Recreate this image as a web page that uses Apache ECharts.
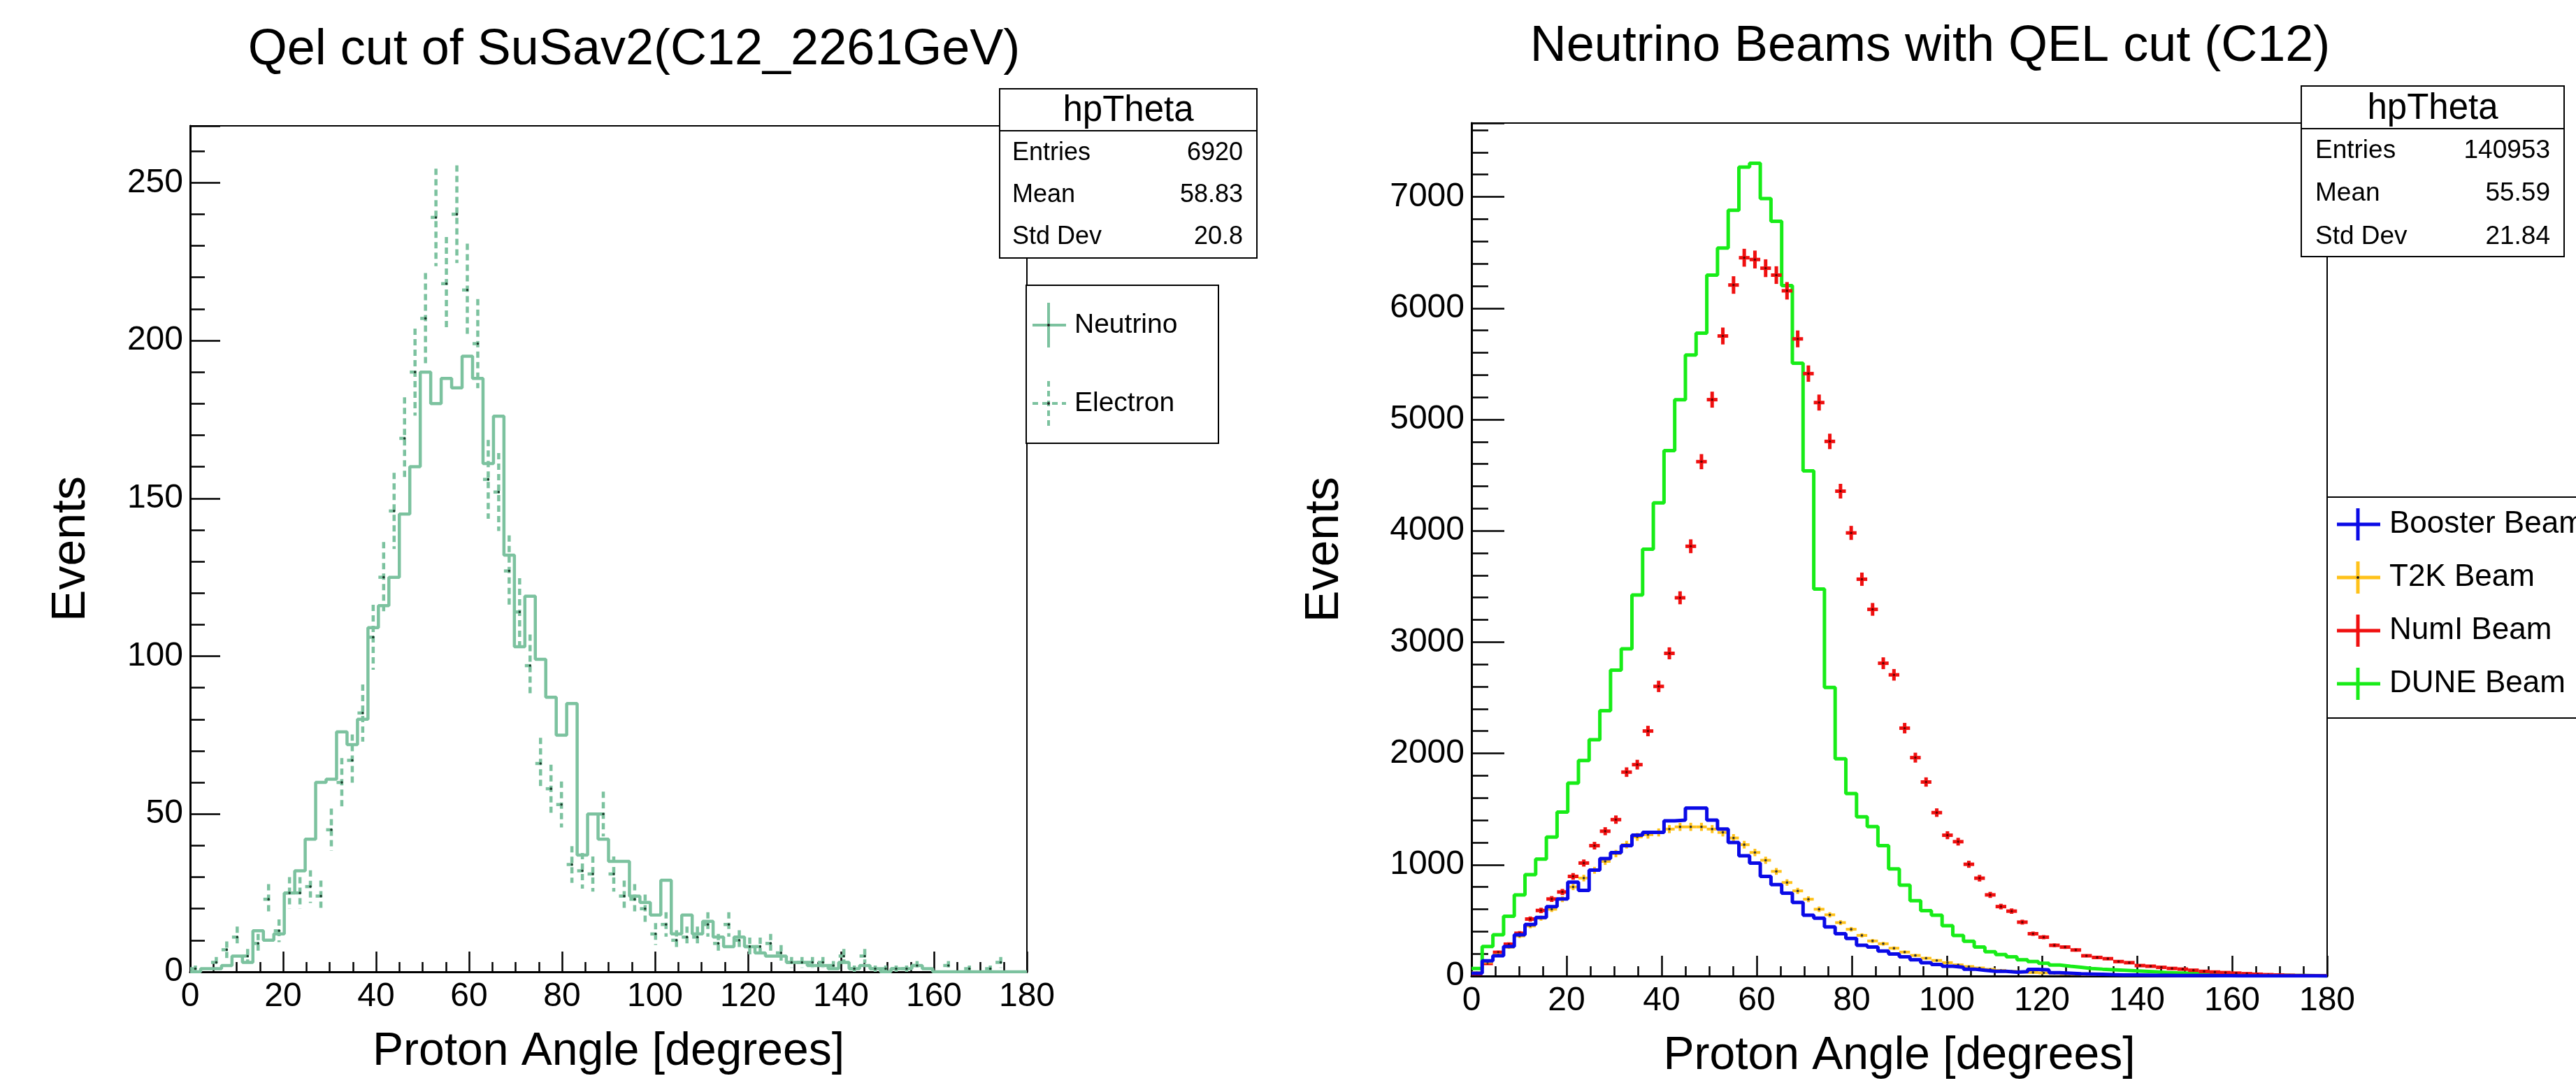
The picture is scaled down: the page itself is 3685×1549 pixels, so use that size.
<!DOCTYPE html>
<html><head><meta charset="utf-8">
<script src="https://cdn.jsdelivr.net/npm/echarts@6/dist/echarts.min.js"></script>
<style>html,body{margin:0;padding:0;background:#fff}#c{width:3685px;height:1549px}</style>
</head><body><div id="c"></div>
<script>
// ---------- binning ----------
const binCount = 80;
const angleMin = 0;
const angleMax = 180;

// ---------- left panel: Qel cut of SuSav2 ----------
const neutrinoCounts = [0,1,1,2,5,3,13,10,12,25, 32,42,60,61,76,72,80,109,116,125,
  145,160,190,180,188,185,195,188,161,176, 132,103,119,99,87,75,85,37,50,42,
  35,35,24,22,18,29,12,18,12,16, 11,8,11,8,6,5,5,3,3,2,
  2,1,3,1,2,1,0,1,1,2, 1,0,0,0,0,0,0,0,0,0];
const electronCounts = [1,0,3,7,11,5,9,23,13,25, 25,27,24,45,60,67,82,106,125,146,
  169,190,207,239,218,240,216,199,156,152, 127,114,97,66,58,53,34,32,31,50,
  31,24,23,20,12,15,10,11,11,15, 9,15,10,8,8,9,6,3,3,3,
  3,2,5,1,5,1,1,1,1,2, 0,0,2,0,1,0,1,3,0,0];

// ---------- right panel: Neutrino beams ----------
const boosterCounts = [25,136,182,265,370,463,526,624,692,843, 770,952,1056,1108,1171,1265,1290,1290,1395,1400,
  1509,1509,1400,1320,1200,1080,1015,895,822,744, 661,546,520,442,380,338,276,260,224,198,
  172,146,120,104,88,78,62,52,42,42, 35,40,60,55,30,25,20,18,15,12,
  10,9,8,7,6,5,5,4,4,3, 3,2,2,2,1,1,1,1,1,0];
const t2kCounts = [30,125,190,260,360,450,520,600,690,800, 880,950,1030,1100,1180,1250,1270,1290,1320,1340,
  1340,1340,1320,1290,1240,1180,1110,1040,940,840, 765,690,600,550,480,420,365,315,290,250,
  215,185,160,140,120,100,85,72,60,50, 42,36,32,28,24,20,17,14,12,10,
  9,8,7,6,5,4,4,3,3,2, 2,2,1,1,1,1,0,0,0,0];
const numiCounts = [20,113,213,286,384,512,589,692,755,895, 1015,1171,1301,1405,1832,1899,2201,2602,2899,3398,
  3861,4621,5178,5750,6208,6453,6437,6359,6297,6156, 5724,5412,5152,4803,4356,3981,3565,3294,2810,2706,
  2227,1962,1743,1468,1265,1207,1004,879,729,624, 583,484,380,349,276,260,234,182,167,156,
  130,120,94,88,78,68,62,52,42,36, 31,26,21,16,12,9,6,4,3,2];
const duneCounts = [67,265,370,537,729,911,1051,1249,1473,1733, 1936,2123,2383,2748,2940,3424,3835,4250,4720,5178,
  5579,5776,6297,6541,6880,7268,7302,6984,6781,6203, 5506,4538,3476,2592,1952,1639,1431,1343,1171,963,
  817,677,588,546,453,364,312,260,219,193, 172,146,130,114,99,88,78,68,62,57,
  52,47,42,37,32,28,25,22,19,16, 14,12,10,8,7,6,5,4,3,2];

// ---------- axis settings / texts ----------
const leftYMax = 268, leftYMajor = 50, leftYMinor = 10;
const rightYMax = 7663, rightYMajor = 1000, rightYMinor = 200;
const xMajor = 20, xMinor = 5;
const leftTitle = 'Qel cut of SuSav2(C12_2261GeV)';
const rightTitle = 'Neutrino Beams with QEL cut (C12)';
const xAxisTitle = 'Proton Angle [degrees]';
const yAxisTitle = 'Events';
const leftStats = [['Entries','6920'],['Mean','58.83'],['Std Dev','20.8']];
const rightStats = [['Entries','140953'],['Mean','55.59'],['Std Dev','21.84']];
const statsName = 'hpTheta';
const leftLegend = ['Neutrino','Electron'];
const rightLegend = ['Booster Beam','T2K Beam','NumI Beam','DUNE Beam'];

// ---------- colours ----------
const cTeal = '#7cc29f', cBlue = '#0a0ae6', cYellow = '#ffc21a', cRed = '#f01010', cGreen = '#18ec18';
const FONT = '"Liberation Sans", Arial, Helvetica, sans-serif';

const binWidth = (angleMax - angleMin) / binCount;
function stepData(vals){
  const d = vals.map((v,i)=>[angleMin + i*binWidth, v]);
  d.push([angleMax, vals[vals.length-1]]);
  return d;
}
function pointData(vals){
  return vals.map((v,i)=>[angleMin + (i+0.5)*binWidth, v]).filter(p=>p[1] > 0);
}
function stepSeries(name, vals, gi, color, width, z){
  return {type:'line', name, xAxisIndex: gi*2, yAxisIndex: gi*2, data: stepData(vals), step:'end',
    showSymbol:false, symbol:'none', lineStyle:{color, width}, itemStyle:{color}, z, silent:true, animation:false, clip:true};
}
function errSeries(name, vals, gi, color, width, dash, dot, z){
  return {type:'custom', name, xAxisIndex: gi*2, yAxisIndex: gi*2, data: pointData(vals), z, silent:true, animation:false, clip:true,
    encode:{x:0,y:1},
    renderItem(params, api){
      const x = api.value(0), y = api.value(1), e = Math.sqrt(y);
      const c = api.coord([x, y]);
      const l = api.coord([x - binWidth/2, y]), r = api.coord([x + binWidth/2, y]);
      const t = api.coord([x, y + e]), b = api.coord([x, Math.max(0, y - e)]);
      const st = {stroke: color, lineWidth: width, lineDash: dash || null};
      const ch = [
        {type:'line', shape:{x1:l[0], y1:c[1], x2:r[0], y2:c[1]}, style: st},
        {type:'line', shape:{x1:c[0], y1:t[1], x2:c[0], y2:b[1]}, style: st}
      ];
      if (dot) ch.push({type:'circle', shape:{cx:c[0], cy:c[1], r:1.8}, style:{fill: dot}});
      return {type:'group', children: ch};
    }};
}

const grids = [
  {left:272, top:180, width:1197, height:1210},
  {left:2105, top:176, width:1224, height:1223}
];
function majorX(gi){
  return {type:'value', gridIndex:gi, min:angleMin, max:angleMax, interval:xMajor, position:'bottom',
    axisLine:{show:true, onZero:false, lineStyle:{color:'#000', width:3}},
    axisTick:{show:true, inside:true, length:29, lineStyle:{color:'#000', width:2.5}},
    axisLabel:{show:true, fontSize:48, color:'#000', fontFamily:FONT, margin:12},
    splitLine:{show:false},
    name:xAxisTitle, nameLocation:'middle', nameGap:82,
    nameTextStyle:{fontSize:66, color:'#000', fontFamily:FONT}};
}
function minorX(gi){
  return {type:'value', gridIndex:gi, min:angleMin, max:angleMax, interval:xMinor, position:'bottom',
    axisLine:{show:false, onZero:false}, axisTick:{show:true, inside:true, length:14, lineStyle:{color:'#000', width:2.5}},
    axisLabel:{show:false}, splitLine:{show:false}};
}
function majorY(gi, max, iv, gap, tickLen){
  return {type:'value', gridIndex:gi, min:0, max, interval:iv, position:'left',
    axisLine:{show:true, onZero:false, lineStyle:{color:'#000', width:3}},
    axisTick:{show:true, inside:true, length:tickLen, lineStyle:{color:'#000', width:2.5}},
    axisLabel:{show:true, fontSize:48, color:'#000', fontFamily:FONT, margin:10,
      formatter: v => (Math.abs(v/iv - Math.round(v/iv)) < 1e-9 ? String(v) : '')},
    splitLine:{show:false},
    name:yAxisTitle, nameLocation:'middle', nameRotate:90, nameGap:gap,
    nameTextStyle:{fontSize:68, color:'#000', fontFamily:FONT}};
}
function minorY(gi, max, iv, tickLen){
  return {type:'value', gridIndex:gi, min:0, max, interval:iv, position:'left',
    axisLine:{show:false, onZero:false}, axisTick:{show:true, inside:true, length:tickLen, lineStyle:{color:'#000', width:2.5}},
    axisLabel:{show:false}, splitLine:{show:false}};
}

// ---------- graphic helpers (stats boxes, legends) ----------
const G = [];
function rect(x,y,w,h){ G.push({type:'rect', z:100, shape:{x,y,width:w,height:h}, style:{fill:'#fff', stroke:'#000', lineWidth:2}}); }
function line(x1,y1,x2,y2,color,w,dash){ G.push({type:'line', z:101, shape:{x1,y1,x2,y2}, style:{stroke:color, lineWidth:w, lineDash:dash||null}}); }
function text(x,y,t,size,align){ G.push({type:'text', z:102, x, y, style:{text:t, font:size+'px '+FONT, fill:'#000', align:align||'left', verticalAlign:'middle'}}); }
function dot(x,y){ G.push({type:'circle', z:102, shape:{cx:x, cy:y, r:2}, style:{fill:'#222'}}); }

function statsBox(x1,y1,x2,y2,div,rows,rowsY,headSize,rowSize,padL,padR){
  rect(x1,y1,x2-x1,y2-y1);
  line(x1,div,x2,div,'#000',2);
  text((x1+x2)/2,(y1+div)/2+2,statsName,headSize,'center');
  rows.forEach((r,i)=>{ text(x1+padL, rowsY[i], r[0], rowSize, 'left'); text(x2-padR, rowsY[i], r[1], rowSize, 'right'); });
}
// left stats + legend
statsBox(1430,127,1798,369,187,leftStats,[219,279,339],51,36,18,20);
rect(1468,408,275,226);
line(1477,465,1525,465,cTeal,4); line(1500,433,1500,497,cTeal,4); dot(1500,465);
text(1537,465,leftLegend[0],39);
line(1477,577,1525,577,cTeal,4,[8,6]); line(1500,545,1500,609,cTeal,4,[8,6]); dot(1500,577);
text(1537,577,leftLegend[1],39);
// right stats + legend
statsBox(3292,123,3668,367,184,rightStats,[216,277,339],51,37,20,20);
rect(3329,711,380,316);
const legCols = [cBlue,cYellow,cRed,cGreen];
[750,826,902,978].forEach((y,i)=>{
  line(3343,y,3405,y,legCols[i],5); line(3373,y-23,3373,y+23,legCols[i],5);
  if (i===1) dot(3373,y);
  text(3418,y,rightLegend[i],44);
});

const chart = echarts.init(document.getElementById('c'), null, {renderer:'canvas'});
chart.setOption({
  backgroundColor:'#fff',
  animation:false,
  title:[
    {text:leftTitle, left:907, top:36, textAlign:'center', padding:0, textStyle:{fontSize:72, fontWeight:'normal', color:'#000', fontFamily:FONT}},
    {text:rightTitle, left:2761, top:31, textAlign:'center', padding:0, textStyle:{fontSize:72, fontWeight:'normal', color:'#000', fontFamily:FONT}}
  ],
  grid: grids.map(g=>Object.assign({show:true, borderColor:'#000', borderWidth:2, backgroundColor:'transparent', containLabel:false}, g)),
  xAxis:[majorX(0), minorX(0), majorX(1), minorX(1)],
  yAxis:[majorY(0,leftYMax,leftYMajor,136,43), minorY(0,leftYMax,leftYMinor,21),
         majorY(1,rightYMax,rightYMajor,176,47), minorY(1,rightYMax,rightYMinor,24)],
  series:[
    stepSeries(leftLegend[0], neutrinoCounts, 0, cTeal, 4.5, 3),
    errSeries(leftLegend[1], electronCounts, 0, cTeal, 4.5, [9,6], '#1a3a2a', 4),
    stepSeries(rightLegend[3], duneCounts, 1, cGreen, 5, 3),
    errSeries(rightLegend[2], numiCounts, 1, cRed, 5, null, '#600', 4),
    errSeries(rightLegend[1], t2kCounts, 1, cYellow, 4, null, '#333', 5),
    stepSeries(rightLegend[0], boosterCounts, 1, cBlue, 5, 6)
  ],
  graphic: G
});
</script>
</body></html>
